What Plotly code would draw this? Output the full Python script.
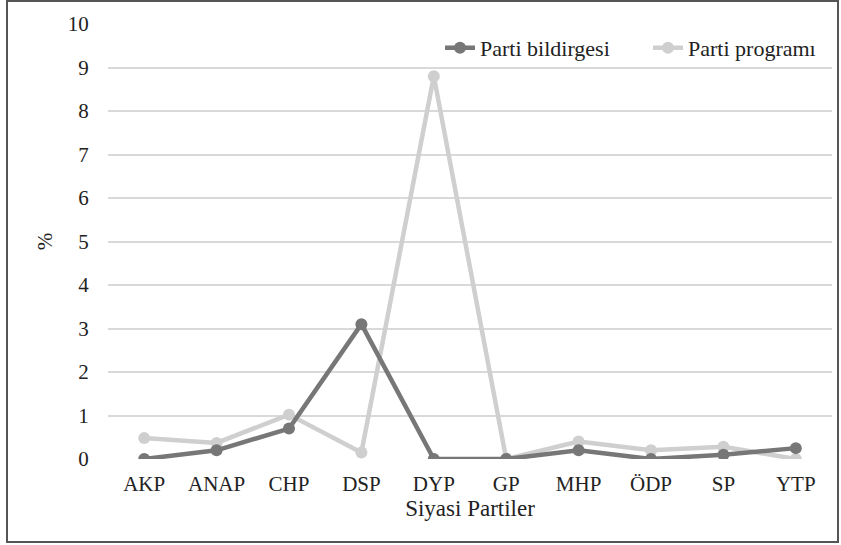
import plotly.graph_objects as go

parties = ["AKP", "ANAP", "CHP", "DSP", "DYP", "GP", "MHP", "ÖDP", "SP", "YTP"]
bildirgesi = [0.0, 0.2, 0.7, 3.1, 0.0, 0.0, 0.2, 0.0, 0.1, 0.25]
programi = [0.48, 0.37, 1.02, 0.15, 8.8, 0.0, 0.4, 0.2, 0.28, 0.0]
y_ticks = list(range(0, 11))

FONT = "Liberation Serif, DejaVu Serif, serif"
W, H = 841, 545
ml, mr, mt, mb = 108, 9, 24, 86
pw, ph = W - ml - mr, H - mt - mb

fig = go.Figure()
fig.add_trace(go.Scatter(x=parties, y=programi, name="Parti programı", mode="lines+markers",
                         line=dict(color="#cfcfcf", width=4.5), marker=dict(size=12, color="#cfcfcf"),
                         legend="legend2"))
fig.add_trace(go.Scatter(x=parties, y=bildirgesi, name="Parti bildirgesi", mode="lines+markers",
                         line=dict(color="#777777", width=4.5), marker=dict(size=12, color="#777777"),
                         legend="legend"))

def px(x):
    return (x - ml) / pw
def py(y):
    return (H - mb - y) / ph
fig.add_shape(type="rect", xref="paper", yref="paper",
              x0=px(7), x1=px(838), y0=py(542), y1=py(1),
              line=dict(color="#555555", width=2), fillcolor="rgba(0,0,0,0)", layer="above")

leg_common = dict(orientation="h", y=0.945, xanchor="left", yanchor="middle",
                  font=dict(size=22), bgcolor="rgba(0,0,0,0)")
fig.update_layout(
    width=W, height=H,
    margin=dict(l=ml, r=mr, t=mt, b=mb),
    paper_bgcolor="white", plot_bgcolor="white",
    font=dict(family=FONT, size=21, color="#222222"),
    showlegend=True,
    legend=dict(x=px(440), **leg_common),
    legend2=dict(x=px(648), **leg_common),
    xaxis=dict(type="category", categoryorder="array", categoryarray=parties,
               range=[-0.5, len(parties) - 0.5],
               showgrid=False, showline=False, zeroline=False,
               ticks="outside", ticklen=6, tickcolor="rgba(0,0,0,0)", automargin=False,
               title=dict(text="Siyasi Partiler", font=dict(size=23), standoff=3),
               tickfont=dict(size=21)),
    yaxis=dict(range=[0, 10], tickvals=y_ticks, showgrid=True, gridcolor="#d9d9d9", gridwidth=1.5,
               zeroline=False, showline=False,
               ticks="outside", ticklen=14, tickcolor="rgba(0,0,0,0)", automargin=False,
               title=dict(text="%", font=dict(size=21), standoff=9),
               tickfont=dict(size=21)),
)
fig.write_html("out.html", config={"displayModeBar": False},
               post_script="document.body.style.margin='0';document.body.style.padding='0';")
